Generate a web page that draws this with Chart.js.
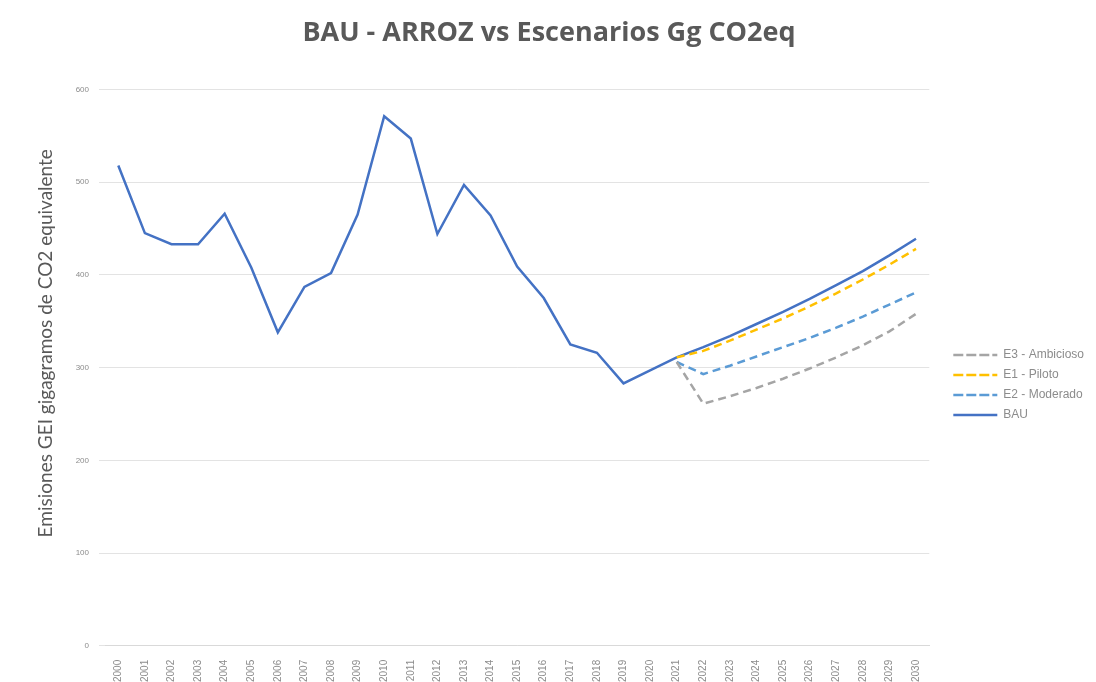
<!DOCTYPE html>
<html>
<head>
<meta charset="utf-8">
<script src="https://cdn.jsdelivr.net/npm/chart.js@4"></script>
<style>
  html, body { margin: 0; padding: 0; background: #fff; }
  #wrap { width: 1096px; height: 682px; }
</style>
</head>
<body>
<div id="wrap"><canvas id="chart" width="1096" height="682"></canvas></div>
<script>
const years = ['2000','2001','2002','2003','2004','2005','2006','2007','2008','2009','2010',
  '2011','2012','2013','2014','2015','2016','2017','2018','2019','2020',
  '2021','2022','2023','2024','2025','2026','2027','2028','2029','2030']

const bau = [518, 445, 433, 433, 466, 408, 338, 387, 402, 465, 571,
  547, 444, 497, 464, 409, 375, 325, 316, 283, 297,
  311, 322, 334, 347, 360, 374, 389, 404, 421, 439]

const pad = [null, null, null, null, null, null, null, null, null, null, null,
  null, null, null, null, null, null, null, null, null, null]

const e3Ambicioso = pad.concat([306, 261, 269, 278, 288, 299, 311, 324, 339, 358])
const e1Piloto = pad.concat([311, 318, 329, 341, 353, 366, 380, 395, 411, 428])
const e2Moderado = pad.concat([306, 293, 302, 312, 322, 332, 343, 355, 368, 381])

const yTicks = [0, 100, 200, 300, 400, 500, 600]

function dashed(label, data, color) {
    return {
        label: label,
        data: data,
        borderColor: color,
        backgroundColor: color,
        borderWidth: 2.5,
        borderDash: [8, 5],
        pointRadius: 0,
        tension: 0,
        fill: false
    }
}

// nudge the legend a bit away from the plot, like the original
const legendShift = {
    id: 'legendShift',
    afterLayout(chart) {
        chart.legend.left += 16
        chart.legend.right += 16
    }
}

new Chart(document.getElementById('chart'), {
    type: 'line',
    data: {
        labels: years,
        datasets: [
            dashed('E3 - Ambicioso', e3Ambicioso, '#a5a5a5'),
            dashed('E1 - Piloto', e1Piloto, '#ffc000'),
            dashed('E2 - Moderado', e2Moderado, '#5b9bd5'),
            {
                label: 'BAU',
                data: bau,
                borderColor: '#4472c4',
                backgroundColor: '#4472c4',
                borderWidth: 2.5,
                pointRadius: 0,
                tension: 0,
                fill: false
            }
        ]
    },
    plugins: [legendShift],
    options: {
        responsive: false,
        animation: false,
        layout: { padding: { left: 20, right: 18, top: 0, bottom: -6 } },
        plugins: {
            title: {
                display: true,
                text: 'BAU - ARROZ vs Escenarios Gg CO2eq',
                color: '#595959',
                font: { family: 'Open Sans', size: 27, weight: 'bold' },
                padding: { top: 17, bottom: 40 }
            },
            legend: {
                position: 'right',
                align: 'center',
                title: { display: true, text: ' ', font: { size: 10 }, padding: { top: 70, bottom: 0 } },
                labels: {
                    usePointStyle: false,
                    boxWidth: 44,
                    boxHeight: 0,
                    color: '#8c8c8c',
                    padding: 8,
                    font: { family: 'Liberation Sans', size: 12 }
                }
            },
            tooltip: { enabled: false }
        },
        scales: {
            x: {
                offset: true,
                grid: { display: false },
                border: { display: true, color: '#d9d9d9' },
                ticks: {
                    minRotation: 90,
                    maxRotation: 90,
                    autoSkip: false,
                    color: '#8c8c8c',
                    padding: 6,
                    font: { family: 'Liberation Sans', size: 10 }
                }
            },
            y: {
                min: 0,
                max: 600,
                afterBuildTicks: (scale) => { scale.ticks = yTicks.map(v => ({ value: v })) },
                afterFit: (scale) => { scale.width = 85 },
                grid: { color: '#e3e3e3', drawTicks: true, tickLength: 6, tickColor: '#e3e3e3' },
                border: { display: false },
                ticks: {
                    color: '#8c8c8c',
                    padding: 10,
                    font: { family: 'Liberation Sans', size: 8 }
                },
                title: {
                    display: true,
                    text: '          Emisiones GEI gigagramos de CO2 equivalente',
                    color: '#595959',
                    font: { family: 'Lato', size: 19 },
                    padding: { top: 14, bottom: 0 }
                }
            }
        }
    }
})
</script>
</body>
</html>
